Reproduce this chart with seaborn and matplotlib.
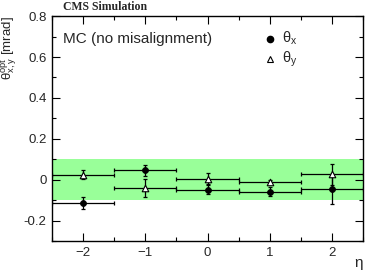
import matplotlib.pyplot as plt
import numpy as np
import pandas as pd
import seaborn as sns
from matplotlib.ticker import MultipleLocator

# ==========================================================
# Data
# ==========================================================

eta = [-2, -1, 0, 1, 2]
eta_halfwidth = [0.5, 0.5, 0.5, 0.5, 0.5]

theta_x = [-0.115, 0.045, -0.048, -0.060, -0.045]
theta_x_err = [0.030, 0.025, 0.020, 0.022, 0.073]

theta_y = [0.025, -0.042, 0.005, -0.012, 0.027]
theta_y_err = [0.023, 0.045, 0.027, 0.010, 0.052]

band_low, band_high = -0.1, 0.1

sns.set_style("ticks")
plt.rcParams["font.family"] = ["Liberation Sans", "DejaVu Sans"]
plt.rcParams["mathtext.default"] = "regular"

fig = plt.figure(figsize=(3.74, 2.78), dpi=100)
ax = fig.add_axes([0.139, 0.133, 0.832, 0.809])

ax.axhspan(band_low, band_high, color="#99ff99", lw=0, zorder=0)

df = pd.DataFrame(
    {
        "eta": eta * 2,
        "theta": theta_x + theta_y,
        "kind": ["x"] * 5 + ["y"] * 5,
    }
)

ax.errorbar(eta, theta_x, xerr=eta_halfwidth, yerr=theta_x_err,
            fmt="none", ecolor="black", elinewidth=0.9, capsize=1.2,
            capthick=0.9, zorder=2)
ax.errorbar(eta, theta_y, xerr=eta_halfwidth, yerr=theta_y_err,
            fmt="none", ecolor="black", elinewidth=0.9, capsize=1.2,
            capthick=0.9, zorder=2)

sns.scatterplot(data=df[df.kind == "x"], x="eta", y="theta", ax=ax,
                marker="o", s=18, color="black", edgecolor="black",
                linewidth=0.6, zorder=3, legend=False)
sns.scatterplot(data=df[df.kind == "y"], x="eta", y="theta", ax=ax,
                marker="^", s=22, facecolor="white", edgecolor="black",
                linewidth=0.8, zorder=3, legend=False)

ax.set_xlim(-2.5, 2.5)
ax.set_ylim(-0.3, 0.8)
ax.xaxis.set_major_locator(MultipleLocator(1))
ax.xaxis.set_minor_locator(MultipleLocator(0.5))
ax.yaxis.set_major_locator(MultipleLocator(0.2))
ax.yaxis.set_minor_locator(MultipleLocator(0.1))
ax.yaxis.set_major_formatter(
    plt.FuncFormatter(lambda v, p: "0" if abs(v) < 1e-9 else f"{v:g}"))

ax.tick_params(which="both", direction="in", top=True, right=True,
               labelsize=9.5, width=0.8, color="black", pad=4)
ax.tick_params(which="major", length=6)
ax.tick_params(which="minor", length=3)
for spine in ax.spines.values():
    spine.set_linewidth(1.0)
    spine.set_color("black")

ax.set_xlabel(r"$\eta$", fontsize=11, loc="right", labelpad=-1)
ax.set_ylabel(r"$\theta^{opt}_{x,y}$ [mrad]", fontsize=9.5, loc="top",
              labelpad=3)

ax.text(0.035, 0.93, "MC (no misalignment)", transform=ax.transAxes,
        fontsize=11, va="top", ha="left")

# legend
ax.plot([1.0], [0.69], "o", color="black", ms=4.5)
ax.plot([1.0], [0.59], "^", mfc="white", mec="black", ms=4.5, mew=0.8)
ax.text(1.2, 0.69, r"$\theta_x$", fontsize=10.5, va="center")
ax.text(1.2, 0.59, r"$\theta_y$", fontsize=10.5, va="center")

fig.text(0.168, 0.995, "CMS Simulation", fontsize=8.5, fontweight="bold",
         family="Liberation Serif", va="top", ha="left")

fig.savefig("out.png", dpi=100)
